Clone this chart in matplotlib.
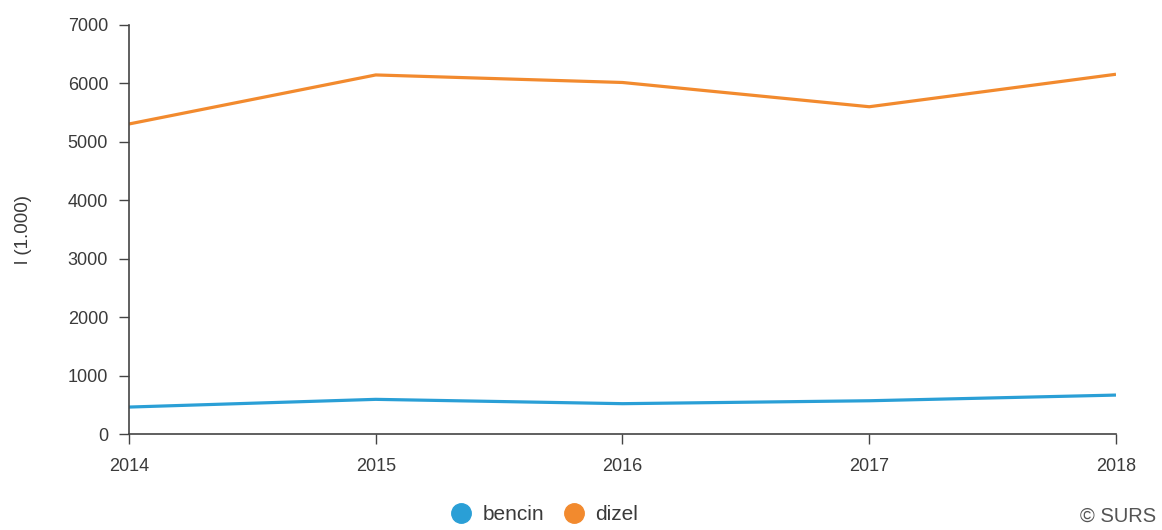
import matplotlib.pyplot as plt
from matplotlib.lines import Line2D

plt.rcParams['font.family'] = ['Liberation Sans', 'DejaVu Sans']

years = [2014, 2015, 2016, 2017, 2018]
bencin = [462, 594, 520, 570, 667]
dizel = [5305, 6144, 6015, 5600, 6156]
labels = ['bencin', 'dizel']
colors = ['#2a9fd6', '#f28a2e']

fig = plt.figure(figsize=(11.62, 5.30), dpi=100)
ax = fig.add_axes([0.111, 0.181, 0.8494, 0.772])

ax.plot(years, bencin, color=colors[0], lw=2.3, solid_capstyle='butt')
ax.plot(years, dizel, color=colors[1], lw=2.3, solid_capstyle='butt')

ax.set_xlim(2014, 2018)
ax.set_ylim(0, 7000)
ax.set_xticks(years)
ax.set_xticklabels([str(y) for y in years])
ax.set_yticks(range(0, 7001, 1000))

for s in ['top', 'right']:
    ax.spines[s].set_visible(False)
for s in ['left', 'bottom']:
    ax.spines[s].set_color('#444444')
    ax.spines[s].set_linewidth(1.2)

ax.tick_params(axis='both', colors='#444444', labelcolor='#3a3a3a',
               labelsize=13, length=7, width=1)
ax.tick_params(axis='y', pad=8)
ax.tick_params(axis='x', pad=10)
ax.set_ylabel('l (1.000)', fontsize=13.5, color='#3a3a3a', labelpad=26)

handles = [Line2D([], [], ls='', marker='o', markersize=14, color=c) for c in colors]
fig.legend(handles, labels, loc='lower center', bbox_to_anchor=(0.464, -0.025),
           ncol=2, frameon=False, fontsize=15, handletextpad=0.0,
           columnspacing=0.45, labelcolor='#3a3a3a')

fig.text(0.995, 0.008, '© SURS', ha='right', va='bottom', fontsize=14.5, color='#555555')

fig.savefig('out.png', dpi=100)
